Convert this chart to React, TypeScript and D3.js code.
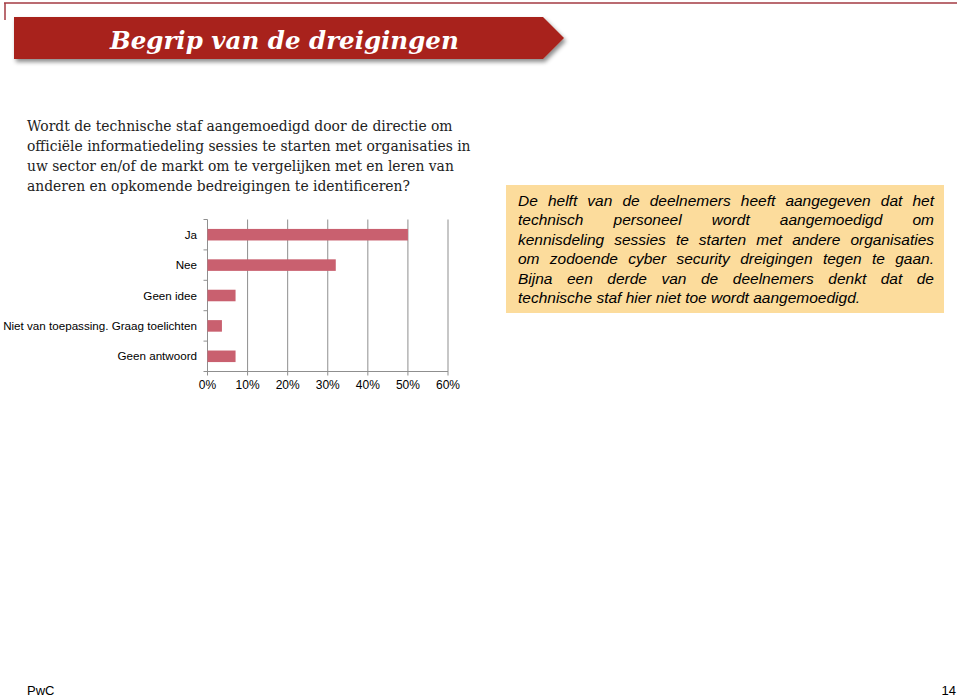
import React, { useMemo } from "react";
import * as d3 from "d3";

const categories = ["Ja", "Nee", "Geen idee", "Niet van toepassing. Graag toelichten", "Geen antwoord"];
const values = [0.5, 0.32, 0.07, 0.036, 0.07];
const xTicks = [0, 0.1, 0.2, 0.3, 0.4, 0.5, 0.6];

const titleText = "Begrip van de dreigingen";
const questionLines = [
  "Wordt de technische staf aangemoedigd door de directie om",
  "officiële informatiedeling sessies te starten met organisaties in",
  "uw sector en/of de markt om te vergelijken met en leren van",
  "anderen en opkomende bedreigingen te identificeren?",
];
const boxLines = [
  "De helft van de deelnemers heeft aangegeven dat het",
  "technisch personeel wordt aangemoedigd om",
  "kennisdeling sessies te starten met andere organisaties",
  "om zodoende cyber security dreigingen tegen te gaan.",
  "Bijna een derde van de deelnemers denkt dat de",
  "technische staf hier niet toe wordt aangemoedigd.",
];
const footerLeft = "PwC";
const footerRight = "14";

const SANS = "'Liberation Sans', Arial, Helvetica, sans-serif";
const SERIF = "'DejaVu Serif', Georgia, serif";

function makeMeasurer() {
  const c = document.createElement("canvas");
  const ctx = c.getContext("2d")!;
  return (text: string, font: string) => {
    ctx.font = font;
    return ctx.measureText(text).width;
  };
}

export default function App() {
  const width = 960;
  const height = 697;

  const x = d3.scaleLinear().domain([0, 0.6]).range([207.5, 448]);
  const y = d3
    .scaleBand<string>()
    .domain(categories)
    .range([219.5, 371.5])
    .paddingInner(0.62)
    .paddingOuter(0.31);
  const step = y.step();

  const layout = useMemo(() => {
    const measure = makeMeasurer();
    const qBase = measure(questionLines[0], `15px ${SERIF}`);
    const qSize = (15 * 426) / qBase;
    const bBase = measure(boxLines[2], `italic 15px ${SANS}`);
    const bSize = Math.min(15.5, (15 * 414) / bBase);
    const bFont = `italic ${bSize}px ${SANS}`;
    const left = 518;
    const right = 934;
    const boxWords = boxLines.map((line, i) => {
      const words = line.split(" ");
      const ws = words.map((w) => measure(w, bFont));
      const total = ws.reduce((a, b) => a + b, 0);
      const last = i === boxLines.length - 1;
      const spaceW = measure(" ", bFont);
      const gap = last ? spaceW : (right - left - total) / (words.length - 1);
      let cx = left;
      return words.map((w, j) => {
        const pos = cx;
        cx += ws[j] + gap;
        return { w, x: pos };
      });
    });
    const tBase = measure(titleText, `italic bold 24px ${SERIF}`);
    const tSize = (24 * 349) / tBase;
    const lBase = measure(categories[3], `12px ${SANS}`);
    const lSize = Math.min(12, (12 * 194) / lBase);
    return { qSize, bSize, boxWords, tSize, lSize };
  }, []);

  const plotTop = 219.5;
  const plotBottom = 371.5;
  const gridColor = "#8f8f8f";
  const barColor = "#c9606f";

  return (
    <svg
      width={width}
      height={height}
      style={{ position: "absolute", left: 0, top: 0, background: "#fff" }}
      fontFamily={SANS}
    >
      <defs>
        <filter id="shadow" x="-5%" y="-20%" width="115%" height="160%">
          <feDropShadow dx="2" dy="3" stdDeviation="2" floodColor="#000" floodOpacity="0.45" />
        </filter>
      </defs>

      {/* top rule */}
      <line x1={4} x2={957} y1={3} y2={3} stroke="#a33a42" strokeWidth={1.5} />
      <line x1={5} x2={5} y1={3} y2={20} stroke="#a33a42" strokeWidth={1.5} />

      {/* banner */}
      <path
        d="M14,17 L543,17 L564,38 L543,59 L14,59 Z"
        fill="#a8241b"
        filter="url(#shadow)"
      />
      <text
        x={110}
        y={49}
        fill="#fff"
        fontFamily={SERIF}
        fontStyle="italic"
        fontWeight="bold"
        fontSize={layout.tSize}
      >
        {titleText}
      </text>

      {/* question */}
      {questionLines.map((l, i) => (
        <text
          key={i}
          x={27}
          y={131 + i * 20}
          fontFamily={SERIF}
          fontSize={layout.qSize}
          fill="#222"
        >
          {l}
        </text>
      ))}

      {/* chart */}
      <g>
        {xTicks.map((t) => (
          <line
            key={t}
            x1={x(t)}
            x2={x(t)}
            y1={plotTop}
            y2={plotBottom + 4}
            stroke={gridColor}
            strokeWidth={1}
          />
        ))}
        <line x1={x(0)} x2={x(0.6)} y1={plotBottom} y2={plotBottom} stroke={gridColor} strokeWidth={1} />
        {d3.range(categories.length + 1).map((i) => (
          <line
            key={i}
            x1={x(0) - 4}
            x2={x(0)}
            y1={plotTop + i * step}
            y2={plotTop + i * step}
            stroke={gridColor}
            strokeWidth={1}
          />
        ))}
        {categories.map((c, i) => (
          <rect
            key={c}
            x={x(0)}
            y={y(c)!}
            width={x(values[i]) - x(0)}
            height={y.bandwidth()}
            fill={barColor}
          />
        ))}
        {categories.map((c) => (
          <text
            key={c}
            x={197}
            y={y(c)! + y.bandwidth() / 2}
            dy="0.35em"
            textAnchor="end"
            fontSize={layout.lSize}
            fill="#000"
          >
            {c}
          </text>
        ))}
        {xTicks.map((t) => (
          <text key={t} x={x(t)} y={389} textAnchor="middle" fontSize={12} fill="#000">
            {d3.format(".0%")(t)}
          </text>
        ))}
      </g>

      {/* yellow box */}
      <rect x={506} y={185} width={438} height={128} fill="#fcdc9c" />
      {layout.boxWords.map((words, i) => (
        <g key={i}>
          {words.map((w, j) => (
            <text
              key={j}
              x={w.x}
              y={206 + i * 19.4}
              fontStyle="italic"
              fontSize={layout.bSize}
              fill="#000"
            >
              {w.w}
            </text>
          ))}
        </g>
      ))}

      {/* footer */}
      <text x={27} y={695} fontSize={13} fill="#000">
        {footerLeft}
      </text>
      <text x={956} y={695} fontSize={13} textAnchor="end" fill="#000">
        {footerRight}
      </text>
    </svg>
  );
}
